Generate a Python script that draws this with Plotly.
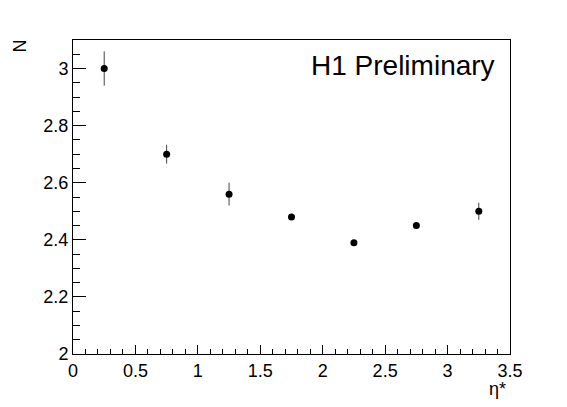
import plotly.graph_objects as go

eta = [0.25, 0.75, 1.25, 1.75, 2.25, 2.75, 3.25]
n_mean = [3.00, 2.70, 2.56, 2.48, 2.39, 2.45, 2.50]
n_err = [0.06, 0.033, 0.04, 0.01, 0.008, 0.01, 0.03]

font = "Liberation Sans, Arial, Helvetica, sans-serif"

fig = go.Figure(go.Scatter(
    x=eta, y=n_mean, mode="markers",
    marker=dict(color="black", size=7),
    error_y=dict(type="data", array=n_err, width=0, thickness=1, color="#444"),
    showlegend=False,
))

axis_common = dict(
    showline=True, linecolor="black", linewidth=1, mirror=True,
    ticks="inside", tickcolor="black", tickwidth=1,
    showgrid=False, zeroline=False,
    tickfont=dict(family=font, size=18, color="black"),
)

fig.update_xaxes(range=[0, 3.5], dtick=0.5, ticklen=9,
                 minor=dict(dtick=0.1, ticklen=5, ticks="inside", tickcolor="black"),
                 **axis_common)
fig.update_yaxes(range=[2, 3.1], dtick=0.2, ticklen=13,
                 minor=dict(dtick=0.05, ticklen=7, ticks="inside", tickcolor="black"),
                 **axis_common)

fig.add_annotation(text="H1 Preliminary", xref="paper", yref="paper",
                   x=0.97, y=0.975, xanchor="right", yanchor="top",
                   showarrow=False, font=dict(family=font, size=28, color="black"))
fig.add_annotation(text="η*", xref="paper", yref="paper",
                   x=0.995, y=-0.11, xanchor="right", yanchor="middle",
                   showarrow=False, font=dict(family=font, size=18, color="black"))
fig.add_annotation(text="N", xref="paper", yref="paper",
                   x=-0.121, y=0.98, xanchor="center", yanchor="middle", textangle=-90,
                   showarrow=False, font=dict(family=font, size=18, color="black"))

# page body has an 8px margin, so the figure is shrunk by that much
fig.update_layout(width=559, height=399, plot_bgcolor="white", paper_bgcolor="white",
                  margin=dict(l=65, r=57, t=32, b=53))

fig.write_html("out.html")
